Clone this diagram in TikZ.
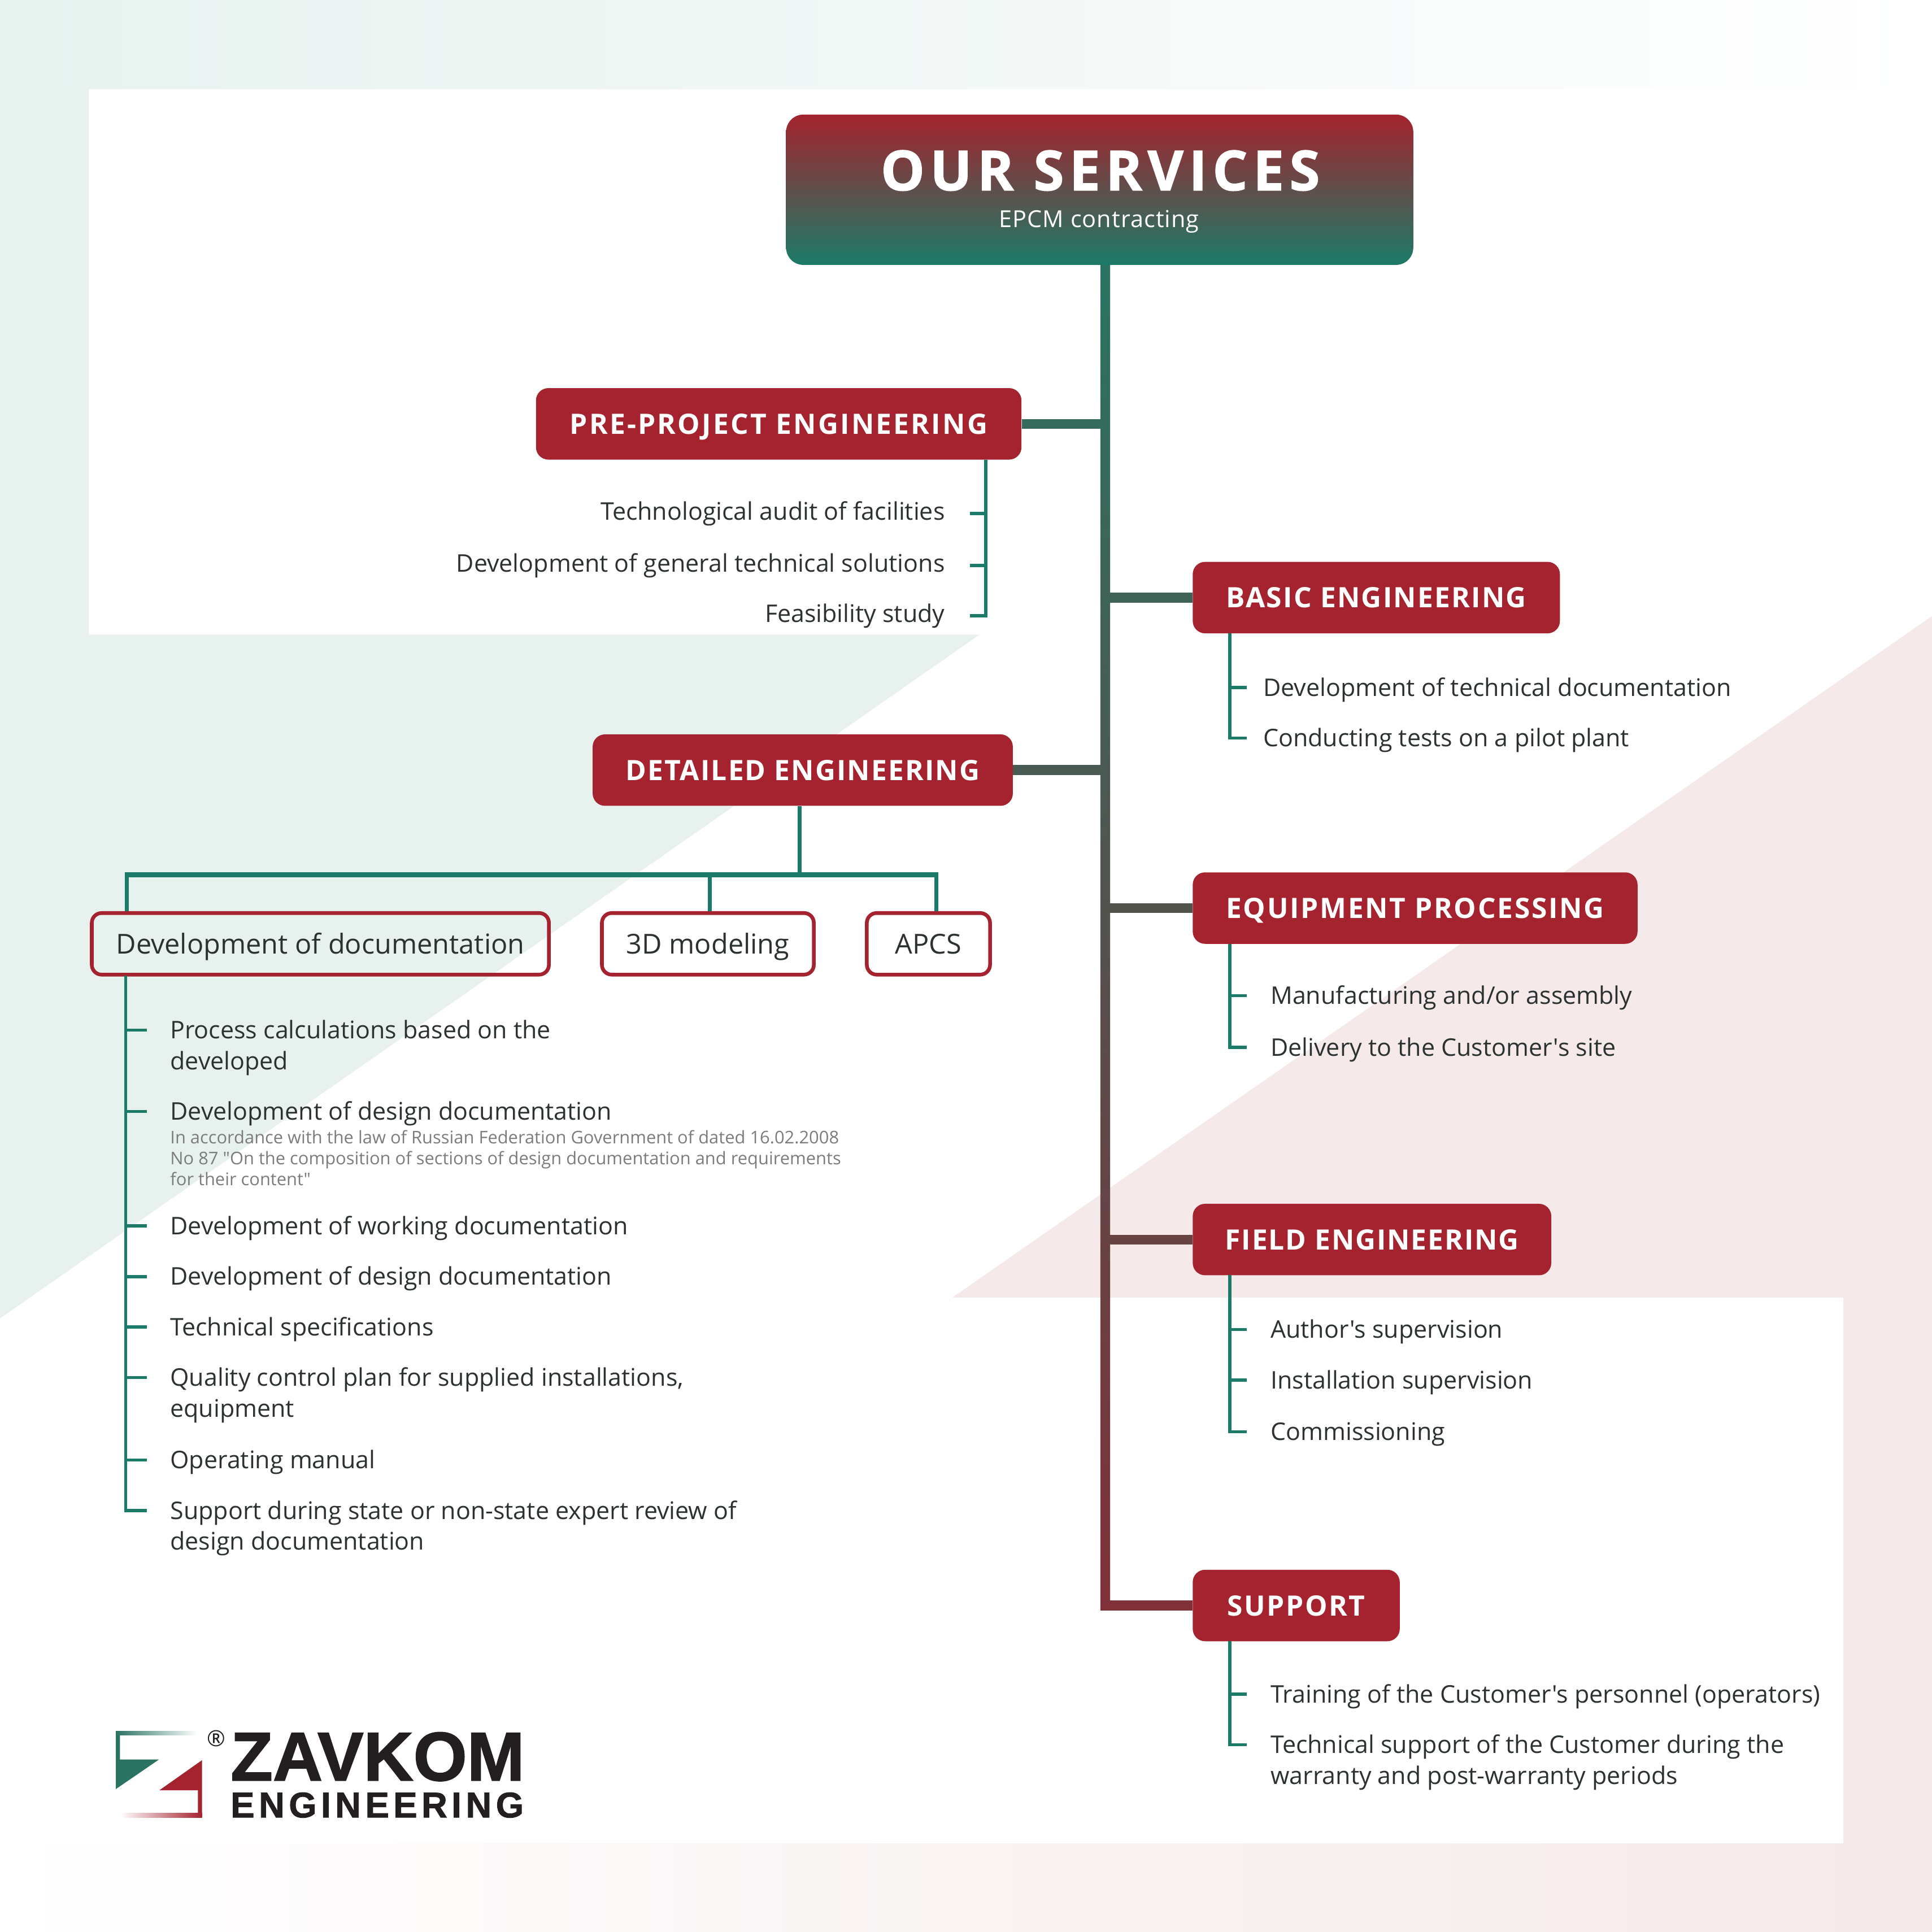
\documentclass[tikz,border=0pt]{standalone}
\usepackage{fontspec}
\usepackage{xcolor}
\usetikzlibrary{positioning,calc}
\setmainfont{Open Sans}[Ligatures=TeXOff]
\newfontfamily\titlefont[FakeBold=1.2]{Open Sans}
\newfontfamily\logofont[FakeBold=1.5]{Liberation Sans}
\definecolor{brandred}{RGB}{164,35,46}
\definecolor{brandgreen}{RGB}{27,123,104}
\definecolor{trunkgreen}{RGB}{42,115,98}
\definecolor{trunkred}{RGB}{127,48,56}
\definecolor{palegreen}{RGB}{231,242,239}
\definecolor{palered}{RGB}{245,233,234}
\definecolor{inktext}{RGB}{43,50,49}
\definecolor{notetext}{RGB}{124,124,124}
\definecolor{logoblack}{RGB}{35,31,32}
\tikzset{
  headbox/.style={rectangle, rounded corners=10pt, fill=brandred, text=white, minimum height=58pt, inner sep=0pt, text height=16.5pt, text depth=0pt, font=\fontsize{22.8}{27}\selectfont\bfseries\addfontfeatures{LetterSpace=4.5}},
  subbox/.style={rectangle, rounded corners=8pt, draw=brandred, line width=3pt, text=inktext, minimum height=50pt, inner sep=0pt, text height=16pt, text depth=0pt, font=\fontsize{22.3}{27}\selectfont},
  item/.style={inner ysep=0pt, inner xsep=0pt, text=inktext, align=left, anchor=base west, font=\fontsize{19.7}{25}\selectfont},
  itemr/.style={item, align=right, anchor=base east},
  note/.style={inner sep=0pt, text=notetext, align=left, anchor=base west, font=\fontsize{14.15}{17}\selectfont},
  branch/.style={line width=8pt},
  link/.style={draw=brandgreen, line width=2.6pt},
  drop/.style={draw=brandgreen, line width=3pt},
  bus/.style={draw=brandgreen, line width=4pt}
}
\begin{document}
\begin{tikzpicture}[x=1pt,y=-1pt]
\useasboundingbox (0,0) rectangle (1568,1568);
% Background
\fill[white] (0,0) rectangle (1568,1568);
\path[left color=palegreen, right color=white] (0,0) rectangle (1568,72);
\fill[palegreen] (0,72) -- (72,72) -- (72,515) -- (795,515) -- (0,1070) -- cycle;
\fill[palered] (773,1053) -- (1568,500) -- (1568,1496) -- (1496,1496) -- (1496,1053) -- cycle;
\path[left color=white, right color=palered] (0,1496) rectangle (1568,1568);

% Root
\node[rectangle, rounded corners=14pt, top color=brandred, bottom color=brandgreen, minimum width=509pt, minimum height=122pt, inner sep=0pt] (root) at (892.5,154) {};
\node[text=white, inner sep=0pt, text height=33pt, text depth=0pt, font=\fontsize{45}{50}\titlefont\bfseries\addfontfeatures{LetterSpace=9.5}\selectfont] (roottitle) at (893,138) {OUR SERVICES};
\node[text=white, inner sep=0pt, font=\fontsize{19}{22}\selectfont\addfontfeatures{LetterSpace=2.5}] (rootsub) at (892,180) {EPCM contracting};

% Level 1
\node[headbox, minimum width=394pt] (pre) at (632,344) {\addfontfeatures{LetterSpace=6.5}PRE-PROJECT ENGINEERING};
\node[headbox, minimum width=298pt] (basic) at (1117,485) {BASIC ENGINEERING};
\node[headbox, minimum width=341pt] (detail) at (651.5,625) {\addfontfeatures{LetterSpace=4.2}DETAILED ENGINEERING};
\node[headbox, minimum width=361pt] (equip) at (1148.5,737) {\addfontfeatures{LetterSpace=5.5}EQUIPMENT PROCESSING};
\node[headbox, minimum width=291pt] (field) at (1113.5,1006) {\addfontfeatures{LetterSpace=3.8}FIELD ENGINEERING};
\node[headbox, minimum width=168pt] (support) at (1052,1303) {\addfontfeatures{LetterSpace=5}SUPPORT};

% Level 2
\node[subbox, minimum width=371pt] (docs) at (260,766) {Development of documentation};
\node[subbox, minimum width=172pt] (model) at (574.5,766) {3D modeling};
\node[subbox, minimum width=100pt] (apcs) at (753.5,766) {APCS};

% Items
\node[itemr, inner xsep=20pt] (pre1) at (787,422) {Technological audit of facilities};
\node[itemr, inner xsep=20pt] (pre2) at (787,464) {Development of general technical solutions};
\node[itemr, inner xsep=20pt] (pre3) at (787,505) {Feasibility study};
\node[item] (basic1) at (1025,565) {Development of technical documentation};
\node[item] (basic2) at (1025,606) {Conducting tests on a pilot plant};
\node[item] (equip1) at (1031,815) {Manufacturing and/or assembly};
\node[item] (equip2) at (1031,857) {Delivery to the Customer's site};
\node[item] (field1) at (1031,1086) {Author's supervision};
\node[item] (field2) at (1031,1127) {Installation supervision};
\node[item] (field3) at (1031,1169) {Commissioning};
\node[item] (support1) at (1031,1382) {Training of the Customer's personnel (operators)};
\node[item] (support2) at (1031,1448) {Technical support of the Customer during the\\warranty and post-warranty periods};
\node[item] (docs1) at (138,868) {Process calculations based on the\\developed};
\node[item] (docs2) at (138,909) {Development of design documentation};
\node[note] (docs2note) at (138,962) {In accordance with the law of Russian Federation Government of dated 16.02.2008\\No 87 "On the composition of sections of design documentation and requirements\\for their content"};
\node[item] (docs3) at (138,1002) {Development of working documentation};
\node[item] (docs4) at (138,1043) {Development of design documentation};
\node[item] (docs5) at (138,1084) {Technical specifications};
\node[item] (docs6) at (138,1150) {Quality control plan for supplied installations,\\equipment};
\node[item] (docs7) at (138,1192) {Operating manual};
\node[item] (docs8) at (138,1258) {Support during state or non-state expert review of\\design documentation};

% Trunk
\coordinate (jpre) at (897,344);
\coordinate (jbasic) at (897,485);
\coordinate (jdetail) at (897,625);
\coordinate (jequip) at (897,737);
\coordinate (jfield) at (897,1006);
\coordinate (jsupport) at (897,1303);
\draw[branch, trunkgreen] (root.south -| jpre) -- (jsupport);
\path[top color=trunkgreen, bottom color=trunkred] ($(root.south -| jpre)+(-4,0)$) rectangle ($(jsupport)+(4,4)$);
\draw[branch, trunkred!12!trunkgreen] (pre) -- (jpre);
\draw[branch, trunkred!25!trunkgreen] (basic) -- (jbasic);
\draw[branch, trunkred!37!trunkgreen] (detail) -- (jdetail);
\draw[branch, trunkred!48!trunkgreen] (equip) -- (jequip);
\draw[branch, trunkred!72!trunkgreen] (field) -- (jfield);
\draw[branch, trunkred] (support) -- (jsupport);

% Edges
\coordinate (prespine) at (800,373);
\draw[link] (prespine) |- (pre3.east);
\draw[link] (pre1.east) -- (pre1.east -| prespine);
\draw[link] (pre2.east) -- (pre2.east -| prespine);
\coordinate (basicspine) at (998,514);
\draw[link] (basicspine) |- ([xshift=-13pt,yshift=7pt]basic2.base west);
\draw[link] ([yshift=7pt]basicspine |- basic1.base) -- ([xshift=-13pt,yshift=7pt]basic1.base west);
\coordinate (equipspine) at (998,766);
\draw[link] (equipspine) |- ([xshift=-19pt,yshift=7pt]equip2.base west);
\draw[link] ([yshift=7pt]equipspine |- equip1.base) -- ([xshift=-19pt,yshift=7pt]equip1.base west);
\coordinate (fieldspine) at (998,1035);
\draw[link] (fieldspine) |- ([xshift=-19pt,yshift=7pt]field3.base west);
\draw[link] ([yshift=7pt]fieldspine |- field1.base) -- ([xshift=-19pt,yshift=7pt]field1.base west);
\draw[link] ([yshift=7pt]fieldspine |- field2.base) -- ([xshift=-19pt,yshift=7pt]field2.base west);
\coordinate (supportspine) at (998,1332);
\draw[link] (supportspine) |- ([xshift=-19pt,yshift=32pt]support2.base west);
\draw[link] ([yshift=7pt]supportspine |- support1.base) -- ([xshift=-19pt,yshift=7pt]support1.base west);
\coordinate (docsspine) at (102,792);
\draw[link] (docsspine) |- ([xshift=-19pt,yshift=32pt]docs8.base west);
\foreach \n/\s in {1/32,2/7,3/7,4/7,5/7,6/32,7/7}
  \draw[link] ([yshift=\s pt]docsspine |- docs\n.base) -- ([xshift=-19pt,yshift=\s pt]docs\n.base west);

% Bus
\coordinate (busleft) at (103,710);
\coordinate (busright) at (760,710);
\draw[bus] ([xshift=-1.5pt]busleft) -- ([xshift=1.5pt]busright);
\draw[drop] ([xshift=-2.5pt]detail.south) -- ([xshift=-2.5pt]detail.south |- busleft);
\draw[drop] (busleft) -- (busleft |- docs.north);
\draw[drop] ([xshift=1.5pt]model.north) -- ([xshift=1.5pt]model.north |- busleft);
\draw[drop] (busright) -- (busright |- apcs.north);

% Logo
\fill[trunkgreen] (94,1405) -- (97.4,1405) -- (97.4,1428) -- (129,1428) -- (94,1452) -- cycle;
\path[left color=trunkgreen, right color=white] (94,1405) rectangle (160,1408.4);
\fill[brandred] (164,1428.5) -- (129.3,1453) -- (160.6,1453) -- (160.6,1475) -- (164,1475) -- cycle;
\path[left color=white, right color=brandred] (97.6,1471.6) rectangle (164,1475);
\node[inner sep=0pt, text=logoblack, font=\fontsize{18}{18}\selectfont] (logomark) at (175.5,1411) {\textregistered};
\node[inner sep=0pt, text=logoblack, anchor=base west, text height=40pt, text depth=0pt, font=\fontsize{56}{56}\logofont\bfseries\selectfont] (logoname) at (187,1445) {ZAVKOM};
\node[inner sep=0pt, text=logoblack, anchor=base west, text height=21pt, text depth=0pt, font=\fontsize{29}{29}\logofont\bfseries\addfontfeatures{LetterSpace=12}\selectfont] (logosub) at (187,1475) {ENGINEERING};
\end{tikzpicture}
\end{document}
